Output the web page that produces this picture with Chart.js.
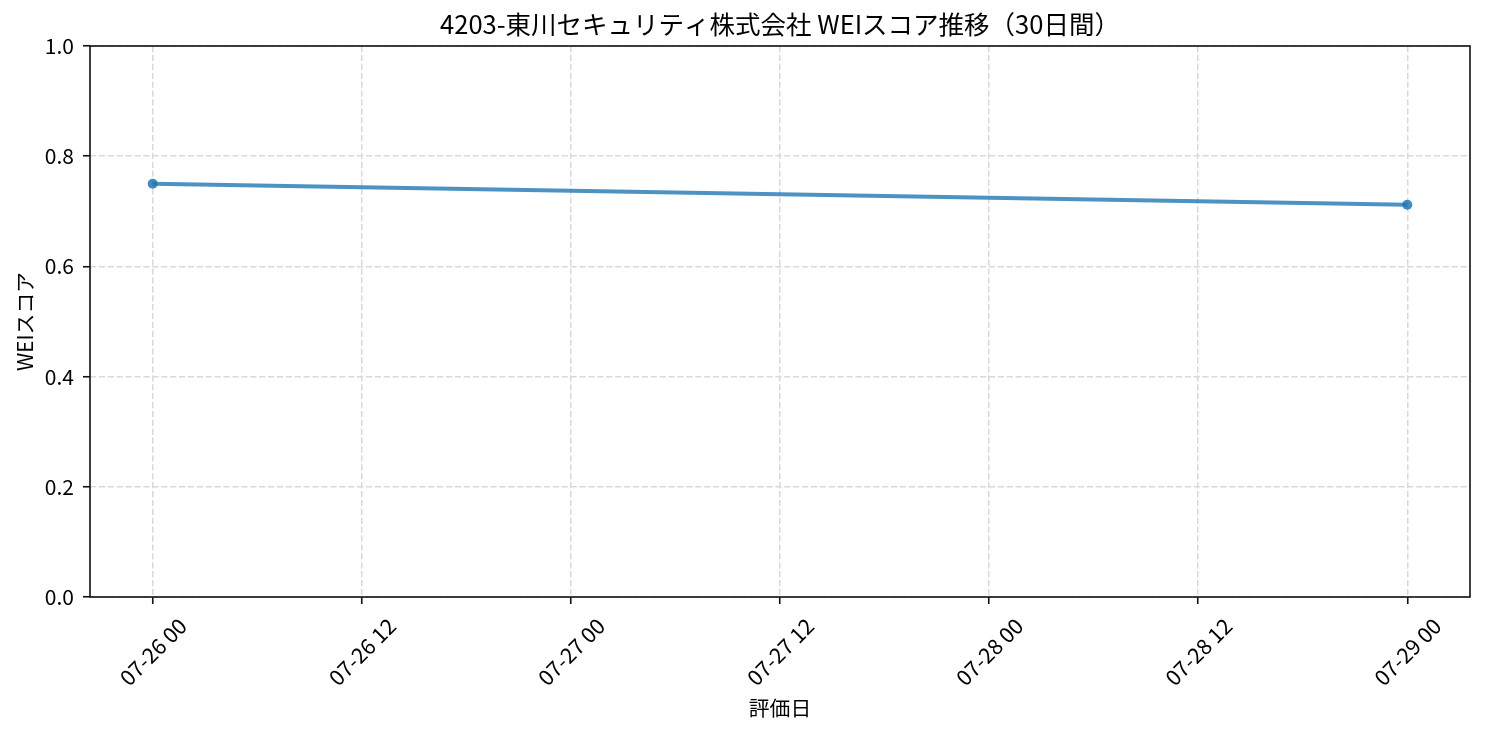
<!DOCTYPE html>
<html>
<head>
  <meta charset="UTF-8">
  <title>WEIスコア推移</title>
  <script src="https://cdn.jsdelivr.net/npm/chart.js"></script>
  <style>
    html, body { margin: 0; padding: 0; background: #fff; }
    #wrap { width: 1485px; height: 735px; }
  </style>
</head>
<body>
  <div id="wrap"><canvas id="weiChart" width="1485" height="735"></canvas></div>
  <script>
    // data
    const chartTitle = "4203-東川セキュリティ株式会社 WEIスコア推移（30日間）";
    const evalDates = ["2025-07-26T00:00:00Z", "2025-07-29T00:00:00Z"];
    const weiScores = [0.75, 0.712];
    const yTicks = [0.0, 0.2, 0.4, 0.6, 0.8, 1.0];
    const xTickHours = [0, 12, 24, 36, 48, 60, 72];

    const FONT = "'Noto Sans CJK JP', 'Noto Sans', sans-serif";
    const baseTime = Date.parse(evalDates[0]);
    const toHours = (d) => (Date.parse(d) - baseTime) / 3600000;
    const points = evalDates.map((d, i) => ({ x: toHours(d), y: weiScores[i] }));

    // matplotlib style 5% margins on the time axis
    const span = toHours(evalDates[evalDates.length - 1]) - toHours(evalDates[0]);
    const xMin = -span * 0.05;
    const xMax = span * 1.05;

    function fmtHour(h) {
      const d = new Date(baseTime + h * 3600000);
      const pad = (n) => String(n).padStart(2, "0");
      return pad(d.getUTCMonth() + 1) + "-" + pad(d.getUTCDate()) + " " + pad(d.getUTCHours());
    }

    // full frame around the plot, like the axes spines
    const frame = {
      id: "frame",
      afterDraw(chart) {
        const { ctx, chartArea: a } = chart;
        ctx.save();
        ctx.strokeStyle = "#111";
        ctx.lineWidth = 1.6;
        ctx.strokeRect(a.left, a.top, a.right - a.left, a.bottom - a.top);
        ctx.restore();
      },
    };

    const gridOpts = {
      color: "#d9d9d9",
      lineWidth: 1.5,
      drawTicks: true,
      tickLength: 7,
      tickColor: "#111",
      tickWidth: 1.6,
      tickBorderDash: [],
    };

    new Chart(document.getElementById("weiChart"), {
      type: "line",
      data: {
        datasets: [
          {
            label: "WEIスコア",
            data: points,
            borderColor: "rgba(31, 119, 180, 0.8)",
            borderWidth: 4,
            pointRadius: 5,
            pointBackgroundColor: "rgba(31, 119, 180, 0.85)",
            pointBorderWidth: 0,
            tension: 0,
          },
        ],
      },
      options: {
        responsive: false,
        devicePixelRatio: 1,
        animation: false,
        layout: { padding: { left: 0, right: 15, top: 0, bottom: 0 } },
        plugins: {
          legend: { display: false },
          tooltip: { enabled: false },
          title: {
            display: true,
            fullSize: false,
            text: chartTitle,
            color: "#000",
            font: { family: FONT, size: 25.5, weight: "normal", lineHeight: 1.2 },
            padding: { top: 9, bottom: 6.4 },
          },
        },
        scales: {
          x: {
            type: "linear",
            min: xMin,
            max: xMax,
            afterBuildTicks: (s) => { s.ticks = xTickHours.map((v) => ({ value: v })); },
            afterFit: (s) => { s.height = 138; },
            border: { display: false, dash: [6.2, 2.7] },
            grid: gridOpts,
            ticks: {
              color: "#000",
              font: { family: FONT, size: 21.5 },
              minRotation: 45,
              maxRotation: 45,
              padding: 9,
              labelOffset: 30,
              callback: (v) => fmtHour(v),
            },
            title: {
              display: true,
              text: "評価日",
              color: "#000",
              font: { family: FONT, size: 20.8, lineHeight: 1.2 },
              padding: { top: 0, bottom: 14.5 },
            },
          },
          y: {
            min: 0,
            max: 1,
            afterBuildTicks: (s) => { s.ticks = yTicks.map((v) => ({ value: v })); },
            afterFit: (s) => { s.width = 90; },
            border: { display: false, dash: [6.2, 2.7] },
            grid: gridOpts,
            ticks: {
              color: "#000",
              font: { family: FONT, size: 21 },
              padding: 9,
              callback: (v) => v.toFixed(1),
            },
            title: {
              display: true,
              text: "WEIスコア",
              color: "#000",
              font: { family: FONT, size: 20.8, lineHeight: 1.2 },
              padding: { top: 12.5, bottom: 0 },
            },
          },
        },
      },
      plugins: [frame],
    });
  </script>
</body>
</html>
